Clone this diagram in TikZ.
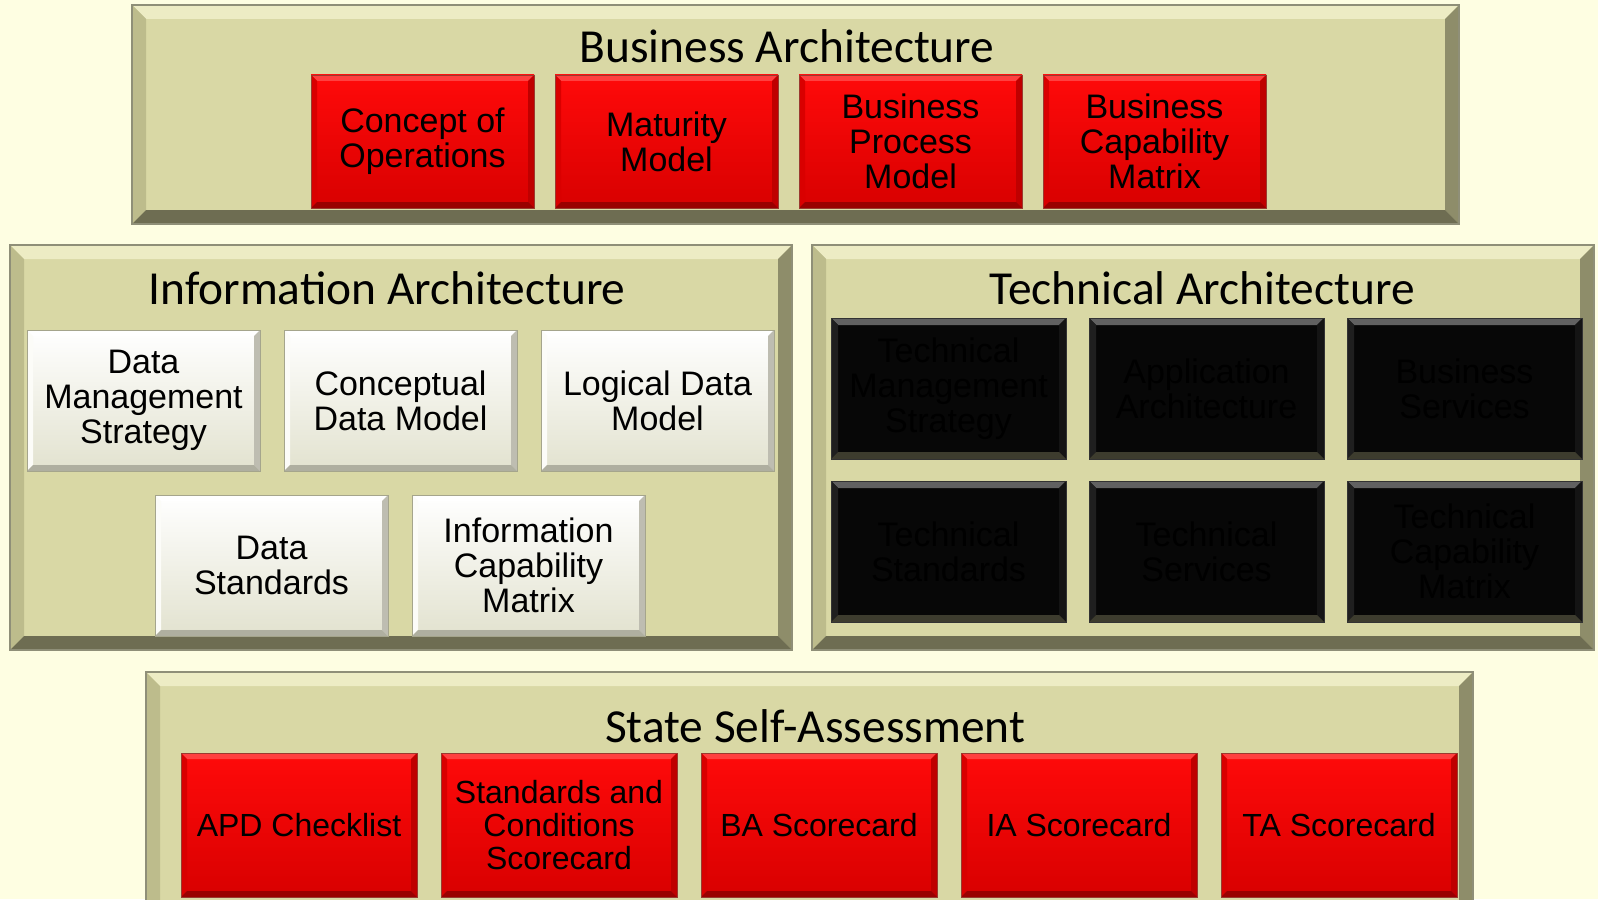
\documentclass[tikz,border=0pt]{standalone}
\usepackage{fontspec}
\setmainfont{Liberation Sans}
\newfontfamily\titlefont{Carlito}
\usepackage{xcolor}
\usepackage{tikz}
\usetikzlibrary{calc}

\definecolor{bgyellow}{HTML}{FEFEE2}
\definecolor{panelfill}{HTML}{D9D8A5}
\definecolor{paneledge}{HTML}{8F8F78}
\definecolor{paneltop}{HTML}{EDECC4}
\definecolor{panelleft}{HTML}{BDBC8C}
\definecolor{panelright}{HTML}{8E8D6A}
\definecolor{panelbottom}{HTML}{6E6D52}
\definecolor{redtop}{HTML}{FF0A0A}
\definecolor{redbot}{HTML}{D80000}
\definecolor{rededge}{HTML}{9A3A30}
\definecolor{whitebot}{HTML}{E2E2CF}
\definecolor{whiteedge}{HTML}{A5A58C}
\definecolor{blackfill}{HTML}{070707}

\tikzset{
    bevel/.style n args={5}{path picture={
        \fill[#2] (path picture bounding box.north west) -- (path picture bounding box.north east)
            -- ([shift={(-#1,#1)}]path picture bounding box.north east) -- ([shift={(#1,#1)}]path picture bounding box.north west) -- cycle;
        \fill[#3] (path picture bounding box.north west) -- (path picture bounding box.south west)
            -- ([shift={(#1,-#1)}]path picture bounding box.south west) -- ([shift={(#1,#1)}]path picture bounding box.north west) -- cycle;
        \fill[#4] (path picture bounding box.north east) -- (path picture bounding box.south east)
            -- ([shift={(-#1,-#1)}]path picture bounding box.south east) -- ([shift={(-#1,#1)}]path picture bounding box.north east) -- cycle;
        \fill[#5] (path picture bounding box.south west) -- (path picture bounding box.south east)
            -- ([shift={(-#1,-#1)}]path picture bounding box.south east) -- ([shift={(#1,-#1)}]path picture bounding box.south west) -- cycle;
    }},
    panel/.style={draw=paneledge, line width=0.8pt, fill=panelfill,
        bevel={14}{paneltop}{panelleft}{panelright}{panelbottom}},
    paneltitle/.style={anchor=base, inner sep=0pt, font=\titlefont\fontsize{23.7}{28}\selectfont},
    box/.style={rectangle, inner sep=0pt, align=center, text=black,
        font=\fontsize{17}{17.5}\selectfont},
    redbox/.style={box, draw=rededge, line width=0.4pt, top color=redtop, bottom color=redbot,
        bevel={6}{red!75!white}{red!85!black}{red!75!black}{red!60!black}},
    scorebox/.style={redbox, font=\fontsize{16}{16.5}\selectfont},
    whitebox/.style={box, draw=whiteedge, line width=0.4pt, top color=white, bottom color=whitebot,
        bevel={6}{white}{white!92!panelfill}{white!55!panelbottom}{white!45!panelbottom}},
    blackbox/.style={box, draw=black!80, line width=0.4pt, fill=blackfill,
        bevel={7}{black!62}{black!88}{black!92}{black!72!panelfill}},
}

\begin{document}
\begin{tikzpicture}[x=0.5pt, y=-0.5pt]
    % Background
    \fill[bgyellow] (0,0) rectangle (1598,899);
    \useasboundingbox (0,0) rectangle (1598,899);
    \clip (0,0) rectangle (1598,899);

    % Panels
    \path[panel] (132,5) rectangle (1459,224);
    \path[panel] (10,245) rectangle (792,650);
    \path[panel] (812,245) rectangle (1594,650);
    \path[panel] (146,672) rectangle (1473,918);

    % Business Architecture
    \node[paneltitle] (batitle) at (787,62) {Business Architecture};
    \node[redbox, minimum width=111.5pt, minimum height=66.5pt] (conops) at (422.5,141.5) {Concept of\\Operations};
    \node[redbox, minimum width=111.5pt, minimum height=66.5pt] (maturity) at (666.5,141.5) {Maturity\\Model};
    \node[redbox, minimum width=111.5pt, minimum height=66.5pt] (bpm) at (910.5,141.5) {Business\\Process\\Model};
    \node[redbox, minimum width=111.5pt, minimum height=66.5pt] (bcm) at (1154.5,141.5) {Business\\Capability\\Matrix};

    % Information Architecture
    \node[paneltitle] (iatitle) at (387,304) {Information Architecture};
    \node[whitebox, minimum width=116.5pt, minimum height=70.5pt] (dms) at (143.5,400.5) {Data\\Management\\Strategy};
    \node[whitebox, minimum width=116.5pt, minimum height=70.5pt] (cdm) at (400.5,400.5) {Conceptual\\Data Model};
    \node[whitebox, minimum width=116.5pt, minimum height=70.5pt] (ldm) at (657.5,400.5) {Logical Data\\Model};
    \node[whitebox, minimum width=116.5pt, minimum height=70.5pt] (dstd) at (271.5,565.5) {Data\\Standards};
    \node[whitebox, minimum width=116.5pt, minimum height=70.5pt] (icm) at (528.5,565.5) {Information\\Capability\\Matrix};

    % Technical Architecture
    \node[paneltitle] (tatitle) at (1202,304) {Technical Architecture};
    \node[blackbox, minimum width=117.5pt, minimum height=70.5pt] (tms) at (948.5,388.5) {Technical\\Management\\Strategy};
    \node[blackbox, minimum width=117.5pt, minimum height=70.5pt] (appa) at (1206.5,388.5) {Application\\Architecture};
    \node[blackbox, minimum width=117.5pt, minimum height=70.5pt] (bsvc) at (1464.5,388.5) {Business\\Services};
    \node[blackbox, minimum width=117.5pt, minimum height=70.5pt] (tstd) at (948.5,551.5) {Technical\\Standards};
    \node[blackbox, minimum width=117.5pt, minimum height=70.5pt] (tsvc) at (1206.5,551.5) {Technical\\Services};
    \node[blackbox, minimum width=117.5pt, minimum height=70.5pt] (tcm) at (1464.5,551.5) {Technical\\Capability\\Matrix};

    % State Self-Assessment
    \node[paneltitle] (ssatitle) at (815,742) {State Self-Assessment};
    \node[scorebox, minimum width=118pt, minimum height=72pt] (apd) at (299,825) {APD Checklist};
    \node[scorebox, minimum width=118pt, minimum height=72pt] (scs) at (559,825) {Standards and\\Conditions\\Scorecard};
    \node[scorebox, minimum width=118pt, minimum height=72pt] (bas) at (819,825) {BA Scorecard};
    \node[scorebox, minimum width=118pt, minimum height=72pt] (ias) at (1079,825) {IA Scorecard};
    \node[scorebox, minimum width=118pt, minimum height=72pt] (tas) at (1339,825) {TA Scorecard};
\end{tikzpicture}
\end{document}
